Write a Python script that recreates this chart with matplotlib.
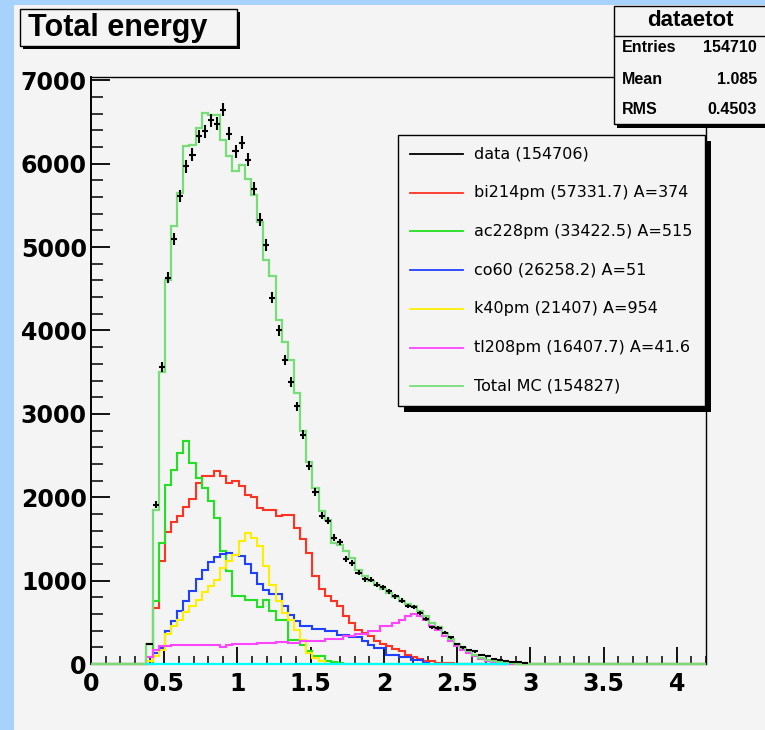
import numpy as np
import matplotlib
matplotlib.use("Agg")
import matplotlib.pyplot as plt
from matplotlib.patches import Rectangle
from matplotlib.lines import Line2D
from matplotlib.ticker import MultipleLocator, FixedLocator

W, H = 765, 730

# ================= DATA =================
n_bins = 100
x_min, x_max = 0.0, 4.2
first_bin = 9  # first filled bin, values below run from here

data = [240, 1910, 3565, 4635, 5100, 5610, 5970, 6110, 6330, 6390,
        6520, 6480, 6650, 6360, 6150, 6250, 6050, 5700, 5330, 5030,
        4390, 4000, 3650, 3380, 3090, 2750, 2380, 2060, 1780, 1720,
        1515, 1460, 1260, 1210, 1095, 1015, 1010, 950, 920, 870,
        810, 760, 695, 680, 610, 535, 440, 430, 375, 320,
        240, 200, 170, 150, 110, 90, 60, 45, 30, 25,
        20, 10]

total_mc = [240, 1850, 3500, 4600, 5250, 5650, 6210, 6230, 6430, 6610,
            6590, 6590, 6290, 6090, 5910, 5980, 5820, 5630, 5300, 4840,
            4650, 4130, 3860, 3650, 3250, 2790, 2420, 2110, 1830, 1730,
            1450, 1430, 1350, 1270, 1130, 1060, 1000, 950, 900, 850,
            800, 760, 720, 690, 640, 570, 490, 440, 370, 300,
            240, 190, 150, 110, 75, 50, 30, 20, 12, 6,
            3, 0]

bi214 = [0, 670, 1230, 1580, 1700, 1770, 1880, 1980, 2170, 2260,
         2260, 2310, 2250, 2170, 2190, 2130, 2030, 2000, 1870, 1850,
         1850, 1780, 1790, 1790, 1630, 1500, 1330, 1060, 900, 820,
         750, 690, 570, 490, 410, 370, 330, 270, 240, 210,
         180, 150, 110, 80, 55, 30, 30, 15, 15, 10,
         5]

ac228 = [0, 750, 1450, 2150, 2330, 2530, 2680, 2410, 2230, 2110,
         1950, 1750, 1350, 1110, 820, 820, 770, 770, 680, 770,
         630, 530, 530, 290, 290, 230, 160, 90, 90, 40,
         20, 10, 5]

co60 = [40, 130, 190, 400, 510, 630, 750, 880, 1020, 1130,
        1220, 1280, 1320, 1330, 1310, 1290, 1200, 1090, 960, 890,
        840, 840, 690, 590, 510, 450, 450, 420, 420, 390,
        390, 350, 350, 320, 320, 270, 230, 190, 190, 110,
        110, 80, 80, 50, 50, 15]

k40 = [30, 100, 170, 360, 450, 530, 620, 690, 770, 860,
       930, 1010, 1150, 1230, 1310, 1470, 1570, 1510, 1410, 1170,
       950, 750, 610, 530, 410, 290, 130, 70, 30]

tl208 = [80, 170, 215, 220, 225, 230, 230, 230, 230, 230,
         230, 225, 205, 225, 240, 240, 245, 245, 250, 250,
         255, 260, 260, 250, 250, 270, 270, 280, 280, 295,
         295, 295, 330, 330, 360, 360, 390, 390, 450, 450,
         490, 530, 570, 600, 575, 530, 450, 410, 340, 270,
         210, 170, 130, 90, 55, 30, 15, 5]

legend_labels = ["data (154706)", "bi214pm (57331.7) A=374",
                 "ac228pm (33422.5) A=515", "co60 (26258.2) A=51",
                 "k40pm (21407) A=954", "tl208pm (16407.7) A=41.6",
                 "Total MC (154827)"]
legend_colors = ["black", "#ff3322", "#22e022", "#2040ff",
                 "#ffee00", "#ff44ff", "#77dd77"]

stats_names = ["Entries", "Mean", "RMS"]
stats_values = ["154710", "1.085", "0.4503"]

xtick_vals = [0, 0.5, 1, 1.5, 2, 2.5, 3, 3.5, 4]
xtick_labels = ["0", "0.5", "1", "1.5", "2", "2.5", "3", "3.5", "4"]
ytick_vals = [0, 1000, 2000, 3000, 4000, 5000, 6000, 7000]


def full(vals):
    h = np.zeros(n_bins)
    h[first_bin:first_bin + len(vals)] = vals
    return h


def fx(px):
    return px / W


def fy(py):
    return 1 - py / H


edges = np.linspace(x_min, x_max, n_bins + 1)
centers = 0.5 * (edges[:-1] + edges[1:])

BG = "#f4f4f4"
BOLD = "Liberation Sans"

# ================= FIGURE =================
fig = plt.figure(figsize=(W / 100, H / 100), dpi=100, facecolor=BG)

# canvas border strips
fig.patches.append(Rectangle((0, fy(5)), 1, 5 / H, transform=fig.transFigure,
                             facecolor="#a6d2fc", edgecolor="none"))
fig.patches.append(Rectangle((0, 0), 14 / W, 1, transform=fig.transFigure,
                             facecolor="#a6d2fc", edgecolor="none"))

ax = fig.add_axes([fx(91), fy(664), fx(706) - fx(91), fy(77) - fy(664)])
ax.set_facecolor(BG)

# components
for vals, col in zip([bi214, ac228, co60, k40, tl208], legend_colors[1:6]):
    ax.stairs(full(vals), edges, color=col, lw=1.5, clip_on=False, zorder=3)

# total MC
ax.stairs(full(total_mc), edges, color=legend_colors[6], lw=1.6,
          clip_on=False, zorder=4)

# empty (cyan) histogram along zero
ax.plot([edges[first_bin], edges[68]], [0, 0], color="#00ffff", lw=1.6,
        clip_on=False, zorder=5, solid_capstyle="butt")

# data with errors
d = full(data)
m = d > 0
ax.errorbar(centers[m], d[m], xerr=(edges[1] - edges[0]) / 2,
            yerr=np.sqrt(d[m]), fmt="none", ecolor="black",
            elinewidth=1.5, capsize=0, zorder=6)

ax.set_xlim(x_min, x_max)
ax.set_ylim(0, 7040)

ax.xaxis.set_major_locator(FixedLocator(xtick_vals))
ax.set_xticklabels(xtick_labels)
ax.xaxis.set_minor_locator(MultipleLocator(0.1))
ax.yaxis.set_major_locator(FixedLocator(ytick_vals))
ax.set_yticklabels([str(v) for v in ytick_vals])
ax.yaxis.set_minor_locator(MultipleLocator(200))

ax.tick_params(which="both", direction="in", top=False, right=False,
               color="black")
ax.tick_params(axis="x", which="major", length=12, width=1.3, pad=6)
ax.tick_params(axis="x", which="minor", length=6, width=1.1)
ax.tick_params(axis="y", which="major", length=14, width=1.3, pad=3)
ax.tick_params(axis="y", which="minor", length=8.5, width=1.1)
for lab in ax.get_xticklabels() + ax.get_yticklabels():
    lab.set_fontfamily("DejaVu Sans")
    lab.set_fontweight("bold")
    lab.set_fontsize(17)

for side in ["left", "bottom"]:
    ax.spines[side].set_linewidth(1.4)
for side in ["top", "right"]:
    ax.spines[side].set_linewidth(1.0)


def box(x0, y0, x1, y1, shadow=(3, 3)):
    sx, sy = shadow
    fig.patches.append(Rectangle((fx(x0 + sx), fy(y1 + sy)), fx(x1 - x0), (y1 - y0) / H,
                                 transform=fig.transFigure, facecolor="black",
                                 edgecolor="none", zorder=10))
    fig.patches.append(Rectangle((fx(x0), fy(y1)), fx(x1 - x0), (y1 - y0) / H,
                                 transform=fig.transFigure, facecolor=BG,
                                 edgecolor="black", lw=1.0, zorder=11))


# ================= TITLE =================
box(20, 9, 237, 46)
fig.text(fx(28), fy(28), "Total energy", fontsize=22, fontweight="bold",
         family=BOLD, va="center", ha="left", zorder=12)

# ================= STATS BOX =================
box(614, 6, 768, 124, shadow=(3, 4))
fig.add_artist(Line2D([fx(614), fx(765)], [fy(36), fy(36)], color="black",
                      lw=1.0, transform=fig.transFigure, zorder=12))
fig.text(fx(690), fy(20), "dataetot", fontsize=16, fontweight="bold",
         family=BOLD, ha="center", va="center", zorder=12)
for i, (name, val) in enumerate(zip(stats_names, stats_values)):
    yy = 48 + i * 31
    fig.text(fx(622), fy(yy), name, fontsize=11.5, fontweight="bold",
             family=BOLD, ha="left", va="center", zorder=12)
    fig.text(fx(757), fy(yy), val, fontsize=11.5, fontweight="bold",
             family=BOLD, ha="right", va="center", zorder=12)

# ================= LEGEND =================
box(398, 135, 705, 406, shadow=(6, 6))
for i, (lab, col) in enumerate(zip(legend_labels, legend_colors)):
    yy = 154 + i * 38.7
    fig.add_artist(Line2D([fx(410), fx(463)], [fy(yy), fy(yy)], color=col,
                          lw=1.3, transform=fig.transFigure, zorder=12))
    fig.text(fx(474), fy(yy), lab, fontsize=11.5, family="DejaVu Sans",
             ha="left", va="center", zorder=12)

fig.savefig("out.png", dpi=100, facecolor=BG)
